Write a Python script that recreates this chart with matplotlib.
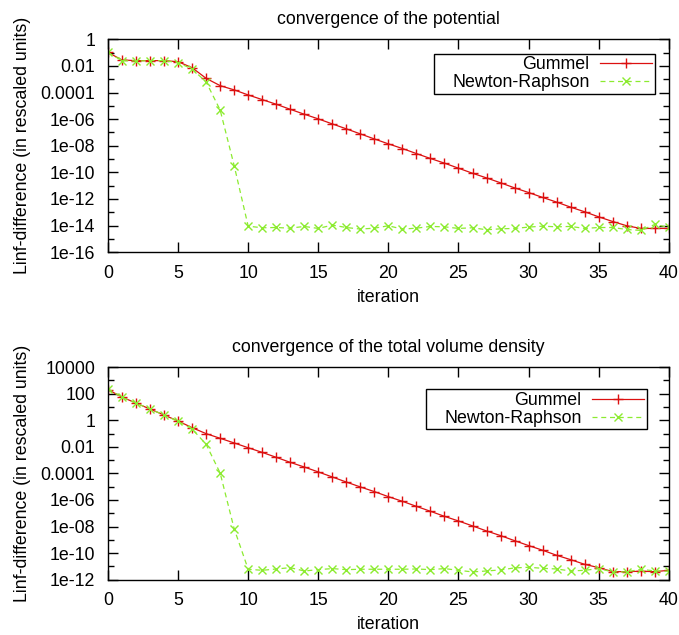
import numpy as np
import matplotlib
matplotlib.use("Agg")
import matplotlib.pyplot as plt
from matplotlib.ticker import FixedLocator, FixedFormatter
from matplotlib.offsetbox import DrawingArea

plt.rcParams['font.family'] = ['Liberation Sans', 'DejaVu Sans']

iterations = list(range(41))

# log10 of the Linf-difference, potential
pot_gummel_log = [-0.98, -1.55, -1.60, -1.60, -1.60, -1.68, -2.13, -2.93, -3.48, -3.80,
                  -4.18, -4.53, -4.88, -5.26, -5.63, -5.98, -6.36, -6.73, -7.11, -7.49,
                  -7.86, -8.21, -8.59, -8.96, -9.31, -9.69, -10.07, -10.42, -10.79, -11.17,
                  -11.52, -11.89, -12.24, -12.62, -12.97, -13.35, -13.70, -14.02, -14.22, -14.22,
                  -14.22]
pot_newton_log = [-0.98, -1.60, -1.63, -1.60, -1.60, -1.75, -2.23, -3.20, -5.31, -9.49,
                  -14.05, -14.17, -14.15, -14.20, -14.07, -14.22, -13.97, -14.15, -14.27, -14.20,
                  -14.02, -14.27, -14.20, -14.07, -14.10, -14.22, -14.17, -14.32, -14.25, -14.22,
                  -14.12, -14.05, -14.10, -14.07, -14.22, -14.15, -14.15, -14.30, -14.37, -13.92,
                  -14.15]

# log10 of the Linf-difference, total volume density
dens_gummel_log = [2.30, 1.74, 1.29, 0.84, 0.39, -0.06, -0.56, -1.01, -1.36, -1.71,
                   -2.07, -2.42, -2.79, -3.17, -3.52, -3.89, -4.27, -4.65, -5.02, -5.37,
                   -5.75, -6.10, -6.48, -6.85, -7.23, -7.58, -7.95, -8.33, -8.68, -9.06,
                   -9.43, -9.78, -10.16, -10.49, -10.84, -11.09, -11.39, -11.39, -11.36, -11.39,
                   -11.29]
dens_newton_log = [2.37, 1.72, 1.29, 0.84, 0.39, -0.09, -0.66, -1.81, -3.97, -8.16,
                   -11.21, -11.29, -11.19, -11.09, -11.34, -11.24, -11.16, -11.24, -11.21, -11.21,
                   -11.21, -11.21, -11.19, -11.24, -11.16, -11.29, -11.41, -11.34, -11.26, -11.11,
                   -11.06, -11.14, -11.19, -11.34, -11.29, -11.16, -11.41, -11.41, -11.21, -11.34,
                   -11.36]

pot_ticks = [1, 1e-2, 1e-4, 1e-6, 1e-8, 1e-10, 1e-12, 1e-14, 1e-16]
pot_labels = ['1', '0.01', '0.0001', '1e-06', '1e-08', '1e-10', '1e-12', '1e-14', '1e-16']
dens_ticks = [1e4, 1e2, 1, 1e-2, 1e-4, 1e-6, 1e-8, 1e-10, 1e-12]
dens_labels = ['10000', '100', '1', '0.01', '0.0001', '1e-06', '1e-08', '1e-10', '1e-12']
x_ticks = [0, 5, 10, 15, 20, 25, 30, 35, 40]

RED = '#dc1010'
GREEN = '#8ceb30'
FS = 12.8

fig = plt.figure(figsize=(6.79, 6.35), dpi=100)
ax1 = fig.add_axes([0.159, 0.603, 0.826, 0.335])
ax2 = fig.add_axes([0.159, 0.087, 0.826, 0.335])


def draw(ax, g_log, n_log, yticks, ylabels, title, legend_pad):
    g = 10.0 ** np.array(g_log)
    n = 10.0 ** np.array(n_log)
    ax.plot(iterations, g, color=RED, lw=0.9, marker='+', ms=7, mew=1.0,
            label='Gummel')
    ax.plot(iterations, n, color=GREEN, lw=0.9, ls=(0, (4, 3)), marker='x', ms=6,
            mew=1.0, label='Newton-Raphson')
    ax.set_yscale('log')
    ax.set_xlim(0, 40)
    ax.set_ylim(min(yticks), max(yticks))
    ax.yaxis.set_major_locator(FixedLocator(yticks))
    ax.yaxis.set_major_formatter(FixedFormatter(ylabels))
    lo, hi = np.log10(min(yticks)), np.log10(max(yticks))
    minor = [10.0 ** e for e in np.arange(lo + 1, hi, 2)]
    ax.yaxis.set_minor_locator(FixedLocator(minor))
    ax.yaxis.set_minor_formatter(FixedFormatter([''] * len(minor)))
    ax.set_xticks(x_ticks)
    ax.tick_params(which='both', direction='in', top=True, right=True,
                   labelsize=FS, width=1.0, pad=9)
    ax.tick_params(which='major', length=7)
    ax.tick_params(which='minor', length=4)
    for s in ax.spines.values():
        s.set_linewidth(1.0)
    ax.set_xlabel('iteration', fontsize=FS, labelpad=5)
    ax.set_ylabel('Linf-difference (in rescaled units)', fontsize=FS, labelpad=7)
    ax.set_title(title, fontsize=FS, pad=11)
    leg = ax.legend(loc='upper right', markerfirst=False, fontsize=FS, frameon=True,
                    fancybox=False, edgecolor='black', framealpha=1.0,
                    handlelength=2.9, handletextpad=0.6, borderaxespad=legend_pad,
                    borderpad=0.15, labelspacing=0.05, columnspacing=0.0)
    leg.get_frame().set_linewidth(1.0)
    # right-align the entries and leave some extra room on the left of the box
    for col in leg._legend_handle_box.get_children():
        col.align = 'right'
    leg._legend_handle_box.get_children().insert(0, DrawingArea(11, 1))


draw(ax1, pot_gummel_log, pot_newton_log, pot_ticks, pot_labels,
     'convergence of the potential', 0.8)
draw(ax2, dens_gummel_log, dens_newton_log, dens_ticks, dens_labels,
     'convergence of the total volume density', 1.25)

fig.savefig('out.png', dpi=100)
